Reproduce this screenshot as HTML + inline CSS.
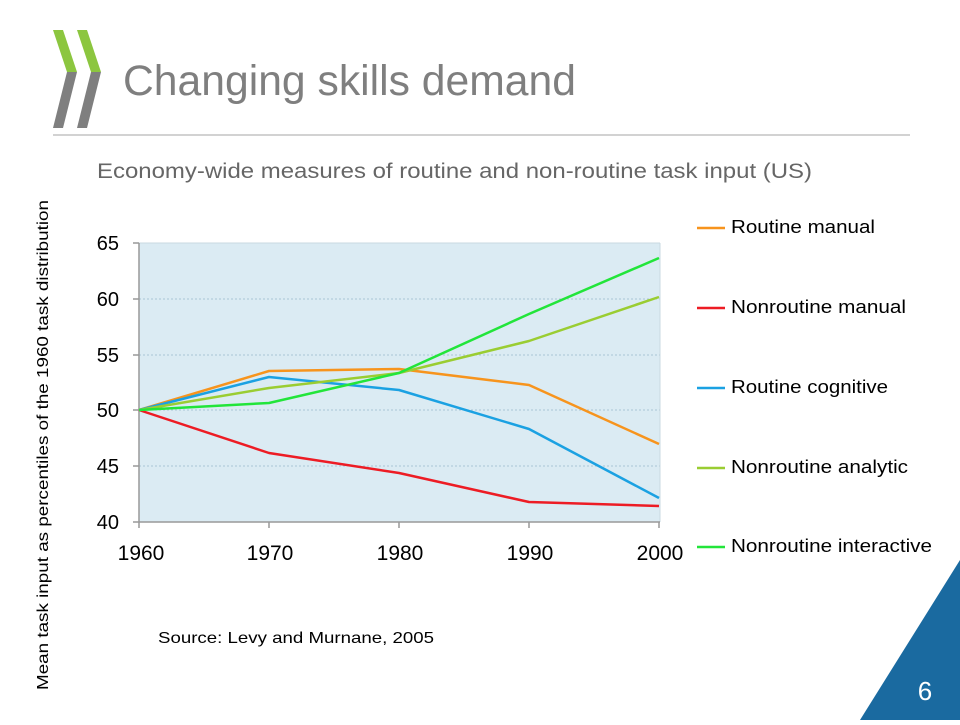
<!DOCTYPE html>
<html><head><meta charset="utf-8"><style>
body{margin:0;width:960px;height:720px;background:#fff;overflow:hidden;font-family:"Liberation Sans",sans-serif}
</style></head><body>
<svg width="960" height="720" xmlns="http://www.w3.org/2000/svg" font-family="Liberation Sans, sans-serif">
<polygon points="53,30 63,30 77,72 67,72" fill="#8cc63f"/>
<polygon points="67,72 77,72 63,128 53,128" fill="#7f7f7f"/>
<polygon points="77,30 87,30 101,72 91,72" fill="#8cc63f"/>
<polygon points="91,72 101,72 87,128 77,128" fill="#7f7f7f"/>
<text x="123" y="95" font-size="43" fill="#7f7f7f" textLength="453" lengthAdjust="spacingAndGlyphs">Changing skills demand</text>
<line x1="53" y1="135" x2="910" y2="135" stroke="#a6a6a6" stroke-width="1"/>
<text x="97" y="178" font-size="21" fill="#666" textLength="715" lengthAdjust="spacingAndGlyphs">Economy-wide measures of routine and non-routine task input (US)</text>
<rect x="139" y="243" width="521" height="279" fill="#dbebf3"/>
<g stroke="#a9c6d4" stroke-dasharray="2,2" stroke-width="1">
<line x1="139" y1="299" x2="660" y2="299"/><line x1="139" y1="355" x2="660" y2="355"/>
<line x1="139" y1="410" x2="660" y2="410"/><line x1="139" y1="466" x2="660" y2="466"/>
</g>
<line x1="139" y1="243" x2="660" y2="243" stroke="#c8d8e0"/>
<line x1="660" y1="243" x2="660" y2="522" stroke="#c8d8e0"/>
<g stroke="#999" stroke-width="1.5">
<line x1="139" y1="243" x2="139" y2="522"/><line x1="133" y1="522" x2="660" y2="522"/>
<line x1="133" y1="243" x2="139" y2="243"/><line x1="133" y1="299" x2="139" y2="299"/><line x1="133" y1="355" x2="139" y2="355"/><line x1="133" y1="410" x2="139" y2="410"/><line x1="133" y1="466" x2="139" y2="466"/>
<line x1="269" y1="522" x2="269" y2="528"/><line x1="399" y1="522" x2="399" y2="528"/><line x1="529" y1="522" x2="529" y2="528"/><line x1="659" y1="522" x2="659" y2="528"/><line x1="139" y1="522" x2="139" y2="528"/>
</g>
<g font-size="20" fill="#000" text-anchor="end">
<text x="119" y="250">65</text><text x="119" y="306">60</text><text x="119" y="362">55</text><text x="119" y="417">50</text><text x="119" y="473">45</text><text x="119" y="529">40</text>
</g>
<g font-size="21" fill="#000" text-anchor="middle">
<text x="141" y="560">1960</text><text x="270" y="560">1970</text><text x="400" y="560">1980</text><text x="530" y="560">1990</text><text x="660" y="560">2000</text>
</g>
<g fill="none" stroke-width="2.5" stroke-linejoin="round">
<polyline stroke="#f7941d" points="139,410 269,371 399,369 529,385 659,444"/>
<polyline stroke="#ed1c24" points="139,410 269,453 399,473 529,502 659,506"/>
<polyline stroke="#1ba1e2" points="139,410 269,377 399,390 529,429 659,498"/>
<polyline stroke="#9acd32" points="139,410 269,388 399,373 529,341 659,297"/>
<polyline stroke="#22e53a" points="139,410 269,403 399,373 529,314 659,258"/>
</g>
<g font-size="18" fill="#000">
<line x1="697" y1="228" x2="725" y2="228" stroke="#f7941d" stroke-width="2.5"/><text x="731" y="233" textLength="144" lengthAdjust="spacingAndGlyphs">Routine manual</text>
<line x1="697" y1="308" x2="725" y2="308" stroke="#ed1c24" stroke-width="2.5"/><text x="731" y="313" textLength="175" lengthAdjust="spacingAndGlyphs">Nonroutine manual</text>
<line x1="697" y1="388" x2="725" y2="388" stroke="#1ba1e2" stroke-width="2.5"/><text x="731" y="393" textLength="157" lengthAdjust="spacingAndGlyphs">Routine cognitive</text>
<line x1="697" y1="468" x2="725" y2="468" stroke="#9acd32" stroke-width="2.5"/><text x="731" y="473" textLength="177" lengthAdjust="spacingAndGlyphs">Nonroutine analytic</text>
<line x1="697" y1="547" x2="725" y2="547" stroke="#22e53a" stroke-width="2.5"/><text x="731" y="552" textLength="201" lengthAdjust="spacingAndGlyphs">Nonroutine interactive</text>
</g>
<text transform="translate(48,445) rotate(-90)" font-size="16" fill="#000" text-anchor="middle" textLength="490" lengthAdjust="spacingAndGlyphs">Mean task input as percentiles of the 1960 task distribution</text>
<text x="158" y="643" font-size="16" fill="#000" textLength="276" lengthAdjust="spacingAndGlyphs">Source: Levy and Murnane, 2005</text>
<polygon points="960,560 960,720 860,720" fill="#1a6aa0"/>
<text x="925" y="700" font-size="26" fill="#fff" text-anchor="middle">6</text>
</svg>
</body></html>
